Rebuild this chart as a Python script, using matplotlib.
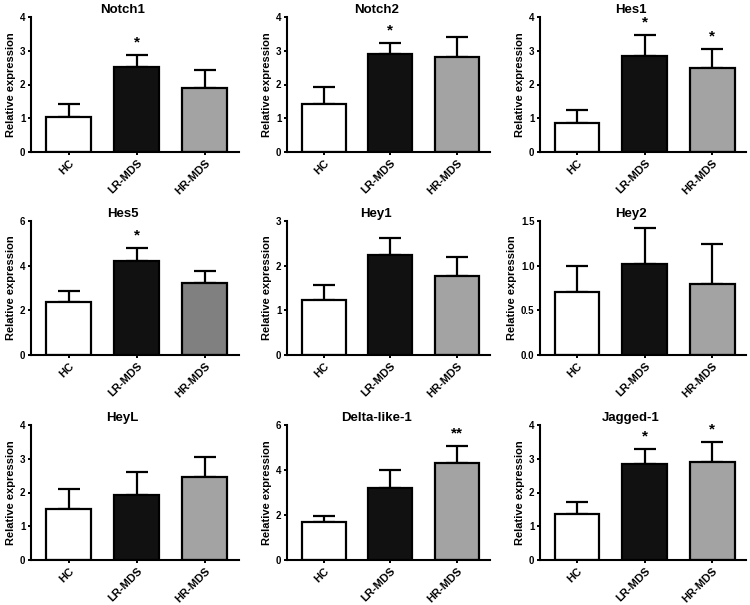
import matplotlib
matplotlib.use("Agg")
import matplotlib.pyplot as plt
import numpy as np

plt.rcParams['font.family'] = ['Liberation Sans', 'DejaVu Sans']
plt.rcParams['font.weight'] = 'bold'

groups = ['HC', 'LR-MDS', 'HR-MDS']

genes = ['Notch1', 'Notch2', 'Hes1',
         'Hes5', 'Hey1', 'Hey2',
         'HeyL', 'Delta-like-1', 'Jagged-1']

# mean values (HC, LR-MDS, HR-MDS)
notch1 = [1.04, 2.53, 1.91]
notch2 = [1.41, 2.89, 2.81]
hes1 = [0.86, 2.83, 2.50]
hes5 = [2.38, 4.21, 3.24]
hey1 = [1.24, 2.23, 1.76]
hey2 = [0.71, 1.02, 0.79]
heyl = [1.51, 1.92, 2.45]
dll1 = [1.67, 3.18, 4.31]
jag1 = [1.37, 2.83, 2.90]

# upper error (SEM)
notch1_err = [0.37, 0.35, 0.52]
notch2_err = [0.52, 0.35, 0.61]
hes1_err = [0.38, 0.65, 0.55]
hes5_err = [0.48, 0.58, 0.51]
hey1_err = [0.32, 0.40, 0.44]
hey2_err = [0.29, 0.40, 0.45]
heyl_err = [0.60, 0.68, 0.61]
dll1_err = [0.27, 0.84, 0.75]
jag1_err = [0.36, 0.45, 0.60]

# significance marks
notch1_sig = ['', '*', '']
notch2_sig = ['', '*', '']
hes1_sig = ['', '*', '*']
hes5_sig = ['', '*', '']
hey1_sig = ['', '', '']
hey2_sig = ['', '', '']
heyl_sig = ['', '', '']
dll1_sig = ['', '', '**']
jag1_sig = ['', '*', '*']

y_max = [4, 4, 4, 6, 3, 1.5, 4, 6, 4]
y_ticks = [[0, 1, 2, 3, 4], [0, 1, 2, 3, 4], [0, 1, 2, 3, 4],
           [0, 2, 4, 6], [0, 1, 2, 3], [0.0, 0.5, 1.0, 1.5],
           [0, 1, 2, 3, 4], [0, 2, 4, 6], [0, 1, 2, 3, 4]]

means = [notch1, notch2, hes1, hes5, hey1, hey2, heyl, dll1, jag1]
errs = [notch1_err, notch2_err, hes1_err, hes5_err, hey1_err, hey2_err,
        heyl_err, dll1_err, jag1_err]
sigs = [notch1_sig, notch2_sig, hes1_sig, hes5_sig, hey1_sig, hey2_sig,
        heyl_sig, dll1_sig, jag1_sig]

W, H = 750, 605
fig = plt.figure(figsize=(W / 100, H / 100), dpi=100)

row_tops = [17, 221, 425]
row_bots = [152, 355, 560]
col_lefts = [31, 287, 540]
col_rights = [239, 490, 746]

x = np.arange(len(groups))

for i, gene in enumerate(genes):
    r, c = divmod(i, 3)
    left = col_lefts[c] / W
    bottom = 1 - row_bots[r] / H
    width = (col_rights[c] - col_lefts[c]) / W
    height = (row_bots[r] - row_tops[r]) / H
    ax = fig.add_axes([left, bottom, width, height])

    colors = ['white', '#111111', '#808080' if gene == 'Hes5' else '#a3a3a3']
    ax.errorbar(x, means[i], yerr=[[0, 0, 0], errs[i]], fmt='none',
                ecolor='black', elinewidth=1.6, capsize=8, capthick=1.6, zorder=1)
    ax.bar(x, means[i], width=0.66, color=colors, edgecolor='black',
           linewidth=1.6, zorder=2)

    for j, s in enumerate(sigs[i]):
        if s:
            ax.annotate(s, (x[j], means[i][j] + errs[i][j]), xytext=(0, 4),
                        textcoords='offset points', ha='center', va='bottom',
                        fontsize=11, fontweight='bold', annotation_clip=False)

    ax.set_xlim(-0.55, 2.5)
    ax.set_ylim(0, y_max[i])
    ax.set_yticks(y_ticks[i])
    if gene == 'Hey2':
        ax.set_yticklabels(['%.1f' % t for t in y_ticks[i]])
    ax.set_xticks(x)
    ax.set_xticklabels(groups, rotation=45, ha='right', rotation_mode='anchor')
    ax.tick_params(axis='both', width=1.4, length=2.5, direction='out', pad=1.5)
    ax.tick_params(axis='y', labelsize=7)
    ax.tick_params(axis='x', labelsize=8, pad=2)
    for sp in ['top', 'right']:
        ax.spines[sp].set_visible(False)
    for sp in ['left', 'bottom']:
        ax.spines[sp].set_linewidth(1.5)
    ax.set_ylabel('Relative expression', fontsize=8, fontweight='bold', labelpad=2.5)
    ax.set_title(gene, fontsize=9.5, fontweight='bold', x=0.44, pad=3)

fig.savefig('out.png', dpi=100)
